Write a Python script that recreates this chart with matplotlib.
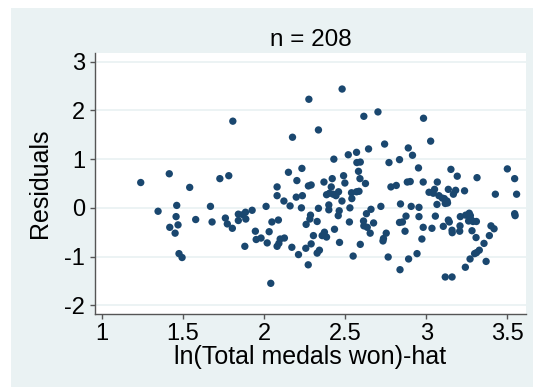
import matplotlib
matplotlib.use('Agg')
import matplotlib.pyplot as plt
from matplotlib.patches import Rectangle

plt.rcParams['font.family'] = ['Liberation Sans', 'DejaVu Sans']
plt.rcParams['axes.unicode_minus'] = False

# fitted values (x) and residuals (y)
fitted = [
    1.239, 1.415, 1.807, 1.541, 1.727, 1.782, 1.346, 1.461, 1.457, 1.418,
    1.469, 1.451, 1.578, 1.669, 1.679, 1.761, 1.773, 1.804, 1.841, 1.841,
    1.475, 1.494,
    2.276, 2.481, 2.615, 2.702, 2.335, 2.175, 2.430, 2.519, 2.570, 2.644,
    2.572, 2.593, 2.582, 2.591, 2.625, 2.585, 2.570, 2.490, 2.498, 2.539,
    2.541, 2.233, 2.150, 2.202, 2.080, 2.080, 2.122, 2.160, 2.198, 2.236,
    2.273, 2.290, 2.230, 2.369, 2.420, 2.414, 2.385, 2.403, 2.426, 2.443,
    2.459, 2.480, 2.399, 2.399, 2.463, 2.457, 2.529, 2.335, 2.286, 2.282,
    2.259, 2.327, 2.012, 1.926, 1.885, 1.869, 1.887, 2.048, 2.088, 1.946,
    2.031, 1.951, 1.981, 2.019, 1.881, 2.099, 2.125, 2.091, 2.080, 2.171,
    2.212, 2.272, 2.041, 2.304, 2.358, 2.372, 2.385, 2.434, 2.290, 2.257,
    2.341, 2.327, 2.465, 2.526, 2.593, 2.549, 2.613, 2.615, 2.636, 2.654,
    2.631, 2.659, 2.675, 2.720,
    2.983, 3.027, 2.743, 2.889, 2.915, 2.835, 2.770, 2.952, 3.152, 3.191,
    3.313, 3.500, 3.545, 3.557, 3.426, 3.545, 3.548, 2.883, 2.901, 2.981,
    3.068, 2.782, 2.815, 3.017, 3.043, 3.051, 3.078, 3.099, 3.111, 3.128,
    3.117, 3.131, 3.136, 3.167, 3.181, 3.236, 3.066, 2.841, 2.907, 2.955,
    2.875, 2.955, 3.056, 2.835, 2.853, 2.869, 2.981, 3.035, 3.105, 3.136,
    3.142, 3.159, 3.160, 3.208, 3.206, 3.210, 3.243, 3.265, 3.272, 3.261,
    3.278, 3.288, 3.309, 3.282, 3.307, 3.399, 3.418, 3.389, 3.356, 3.327,
    3.310, 3.298, 3.369, 3.270, 3.241, 3.117, 3.159, 2.943, 2.891, 2.838,
    2.765, 2.973, 2.736, 2.733, 2.753,
]
residuals = [
    0.52, 0.70, 1.78, 0.42, 0.60, 0.66, -0.07, 0.05, -0.18, -0.40,
    -0.35, -0.52, -0.24, 0.03, -0.29, -0.21, -0.33, -0.42, -0.13, -0.26,
    -0.94, -1.02,
    2.23, 2.44, 1.88, 1.97, 1.60, 1.45, 1.00, 1.09, 1.14, 1.21,
    0.93, 0.94, 0.75, 0.60, 0.50, 0.34, 0.33, 0.66, 0.51, 0.31,
    0.19, 0.81, 0.73, 0.56, 0.43, 0.25, 0.14, 0.04, 0.22, 0.25,
    0.45, 0.47, 0.00, 0.53, 0.60, 0.43, 0.27, 0.30, 0.28, 0.25,
    0.33, 0.14, 0.06, -0.04, -0.06, -0.16, 0.00, -0.01, -0.15, -0.23,
    -0.34, -0.28, 0.03, -0.05, -0.09, -0.14, -0.23, -0.29, -0.25, -0.48,
    -0.49, -0.65, -0.62, -0.72, -0.79, -0.64, -0.62, -0.73, -0.79, -0.81,
    -0.96, -1.17, -1.55, -0.57, -0.57, -0.50, -0.60, -0.44, -0.74, -0.83,
    -0.87, -0.93, -0.71, -0.29, -0.75, -0.99, -0.27, -0.37, -0.40, -0.52,
    -0.12, -0.03, -0.31, 0.03,
    1.84, 1.37, 1.31, 1.23, 1.08, 0.99, 0.93, 0.82, 0.79, 0.65,
    0.62, 0.80, 0.60, 0.28, 0.28, -0.12, -0.16, 0.53, 0.54, 0.53,
    0.53, 0.43, 0.46, 0.32, 0.30, 0.38, 0.25, 0.20, 0.19, 0.14,
    0.09, 0.10, 0.38, 0.28, 0.36, 0.35, 0.07, 0.08, 0.03, 0.01,
    -0.17, -0.18, -0.17, -0.30, -0.29, -0.48, -0.40, -0.42, -0.38, -0.25,
    -0.29, -0.46, -0.51, -0.37, -0.48, -0.18, -0.15, -0.11, -0.16, -0.27,
    -0.25, -0.28, -0.28, -0.47, -0.61, -0.37, -0.43, -0.57, -0.73, -0.87,
    -0.92, -0.94, -1.10, -1.05, -1.22, -1.42, -1.42, -0.94, -1.05, -1.27,
    -1.01, -0.64, -0.63, -0.68, -0.52,
]
x_ticks = [1, 1.5, 2, 2.5, 3, 3.5]
x_ticklabels = ['1', '1.5', '2', '2.5', '3', '3.5']
y_ticks = [-2, -1, 0, 1, 2, 3]

bg = '#eaf2f3'
navy = '#1a476f'

fig = plt.figure(figsize=(5.33, 3.87), dpi=100, facecolor='white')
# light graph region, leaving a thin white strip on the left and top
fig.add_artist(Rectangle((11 / 533, 0), 1, 379 / 387, transform=fig.transFigure,
                         facecolor=bg, edgecolor='none', zorder=-5))
ax = fig.add_axes([95 / 533, 73 / 387, 431 / 533, 261 / 387])
ax.set_zorder(1)
ax.set_facecolor('white')

ax.scatter(fitted, residuals, s=28, color=navy, edgecolors='none', zorder=3)

ax.set_xlim(0.957, 3.615)
ax.set_ylim(-2.18, 3.18)
ax.set_xticks(x_ticks)
ax.set_xticklabels(x_ticklabels)
ax.set_yticks(y_ticks)
ax.grid(axis='y', color=bg, linewidth=1.3)
ax.set_axisbelow(True)

for side in ['top', 'right']:
    ax.spines[side].set_visible(False)
for side in ['left', 'bottom']:
    ax.spines[side].set_color('#555555')
    ax.spines[side].set_linewidth(1.0)

ax.tick_params(axis='both', colors='#555555', labelcolor='black', labelsize=17,
               length=3.6, width=1.0)
ax.tick_params(axis='y', pad=3.5)
ax.tick_params(axis='x', pad=3)

ax.set_title('n = 208', fontsize=17.5, pad=5)
ax.set_xlabel('ln(Total medals won)-hat', fontsize=18, labelpad=0)
ax.set_ylabel('Residuals', fontsize=18, labelpad=9)

fig.savefig('out.png', dpi=100, facecolor='white')
